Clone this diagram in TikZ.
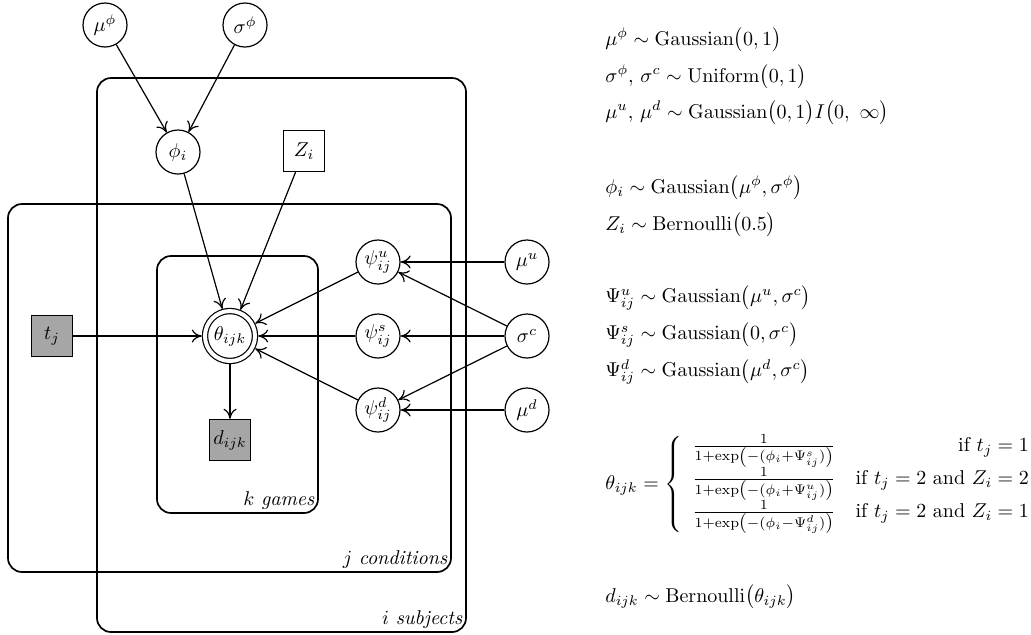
\documentclass[tikz,border=0pt]{standalone}
\usepackage{amsmath}
\usetikzlibrary{arrows.meta}
\begin{document}
\begin{tikzpicture}[x=0.5pt,y=-0.5pt,
  latent/.style={circle,draw,line width=0.6pt,minimum size=22pt,inner sep=0pt},
  detbox/.style={rectangle,draw,line width=0.6pt,minimum size=20.5pt,inner sep=0pt},
  obsbox/.style={rectangle,draw,line width=0.7pt,fill=black!35,minimum size=20.5pt,inner sep=0pt},
  plate/.style={rectangle,draw,line width=0.85pt,rounded corners=7pt,inner sep=0pt},
  platelabel/.style={anchor=south east,inner sep=2pt},
  eqn/.style={anchor=west,inner sep=0pt},
  edge/.style={-{To[length=5pt,width=6.5pt]},line width=0.6pt}]
\useasboundingbox (0,0) rectangle (1031,634);
% plates
\node[plate,minimum width=184.5pt,minimum height=277pt] (plateI) at (281.5,355) {};
\node[plate,minimum width=221.5pt,minimum height=184pt] (plateJ) at (229.5,388) {};
\node[plate,minimum width=80.5pt,minimum height=128.5pt] (plateK) at (237.5,384.5) {};
\node[platelabel] (labI) at (plateI.south east) {$i$ \textit{subjects}};
\node[platelabel] (labJ) at (plateJ.south east) {$j$ \textit{conditions}};
\node[platelabel] (labK) at (plateK.south east) {$k$ \textit{games}};
% nodes
\node[latent] (muphi) at (105,25) {$\mu^{\phi}$};
\node[latent] (sigphi) at (245,25) {$\sigma^{\phi}$};
\node[latent] (phi) at (178,152) {$\phi_i$};
\node[detbox] (Z) at (304,151) {$Z_i$};
\node[obsbox] (t) at (52,336) {$t_j$};
\node[circle,draw,line width=0.6pt,double,double distance=2pt,minimum size=25pt,inner sep=0pt,outer sep=1.6pt] (theta) at (230,336) {$\theta_{ijk}$};
\node[obsbox] (d) at (230,440) {$d_{ijk}$};
\node[latent] (psiu) at (378,262) {$\psi^{u}_{ij}$};
\node[latent] (psis) at (378,336) {$\psi^{s}_{ij}$};
\node[latent] (psid) at (378,410) {$\psi^{d}_{ij}$};
\node[latent] (muu) at (527,262) {$\mu^{u}$};
\node[latent] (sigc) at (527,336) {$\sigma^{c}$};
\node[latent] (mud) at (527,410) {$\mu^{d}$};
% edges
\draw[edge] (muphi) -- (phi);
\draw[edge] (sigphi) -- (phi);
\draw[edge] (phi) -- (theta);
\draw[edge] (Z) -- (theta);
\draw[edge] (t) -- (theta);
\draw[edge] (psiu) -- (theta);
\draw[edge] (psis) -- (theta);
\draw[edge] (psid) -- (theta);
\draw[edge] (theta) -- (d);
\draw[edge] (muu) -- (psiu);
\draw[edge] (sigc) -- (psiu);
\draw[edge] (sigc) -- (psis);
\draw[edge] (sigc) -- (psid);
\draw[edge] (mud) -- (psid);
% equations
\node[eqn] (e1) at (605,40) {$\mu^{\phi} \sim \mathrm{Gaussian}\bigl(0,1\bigr)$};
\node[eqn] (e2) at (605,77) {$\sigma^{\phi},\, \sigma^{c} \sim \mathrm{Uniform}\bigl(0,1\bigr)$};
\node[eqn] (e3) at (605,113) {$\mu^{u},\, \mu^{d} \sim \mathrm{Gaussian}\bigl(0,1\bigr)I\bigl(0,\ \infty\bigr)$};
\node[eqn] (e4) at (605,188) {$\phi_i \sim \mathrm{Gaussian}\bigl(\mu^{\phi},\sigma^{\phi}\bigr)$};
\node[eqn] (e5) at (605,225) {$Z_i \sim \mathrm{Bernoulli}\bigl(0.5\bigr)$};
\node[eqn] (e6) at (605,298) {$\Psi^{u}_{ij} \sim \mathrm{Gaussian}\bigl(\mu^{u},\sigma^{c}\bigr)$};
\node[eqn] (e7) at (605,335) {$\Psi^{s}_{ij} \sim \mathrm{Gaussian}\bigl(0,\sigma^{c}\bigr)$};
\node[eqn] (e8) at (605,372) {$\Psi^{d}_{ij} \sim \mathrm{Gaussian}\bigl(\mu^{d},\sigma^{c}\bigr)$};
\node[eqn] (e9) at (605,484) {$\theta_{ijk} = \left\{\begin{array}{lr}
  \frac{1}{1+\exp\left(-(\phi_i+\Psi^{s}_{ij})\right)} & \text{if } t_j = 1\\
  \frac{1}{1+\exp\left(-(\phi_i+\Psi^{u}_{ij})\right)} & \text{if } t_j = 2 \text{ and } Z_i = 2\\
  \frac{1}{1+\exp\left(-(\phi_i-\Psi^{d}_{ij})\right)} & \text{if } t_j = 2 \text{ and } Z_i = 1
  \end{array}\right.$};
\node[eqn] (e10) at (605,597) {$d_{ijk} \sim \mathrm{Bernoulli}\bigl(\theta_{ijk}\bigr)$};
\end{tikzpicture}
\end{document}
